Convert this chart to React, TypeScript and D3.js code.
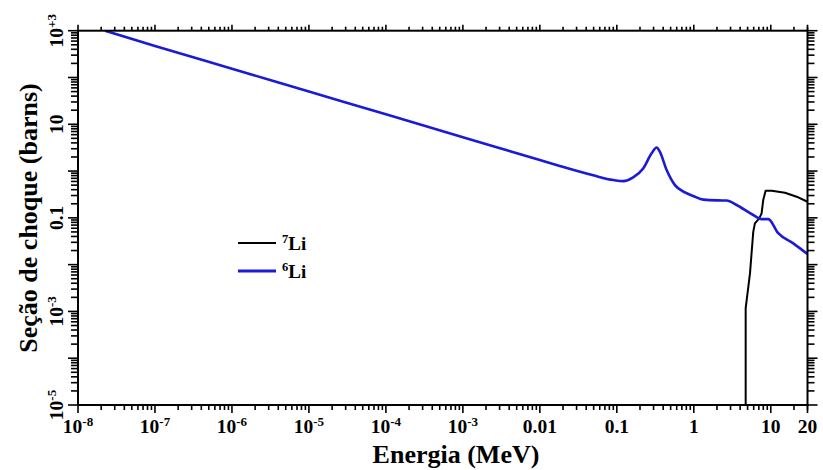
import React from "react";
import * as d3 from "d3";

// ---- data ----
const li6Energy = [2.25e-8, 1e-7, 1e-6, 1e-5, 1e-4, 1e-3, 0.01, 0.0182, 0.0494, 0.09, 0.121, 0.163, 0.22, 0.283, 0.329, 0.363, 0.444, 0.569, 0.767, 1.0, 1.33, 2.0, 2.67, 3.6, 5.92, 7.6, 9.27, 12.5, 19.6, 30];
const li6Sigma = [1000, 473, 154, 50, 16.3, 5.27, 1.72, 1.28, 0.81, 0.643, 0.61, 0.733, 1.14, 2.39, 3.2, 2.58, 1.05, 0.5, 0.35, 0.29, 0.245, 0.236, 0.235, 0.188, 0.115, 0.094, 0.094, 0.047, 0.0285, 0.0168];

const li7Energy = [4.72, 4.72, 5.37, 5.92, 6.22, 7.08, 7.6, 7.98, 8.57, 10.3, 15.3, 21.7, 30];
const li7Sigma = [1e-5, 1.18e-3, 6.5e-3, 0.05, 0.076, 0.0975, 0.125, 0.24, 0.38, 0.38, 0.344, 0.283, 0.221];

const X_MIN = 1e-8;
const X_MAX = 30;
const Y_MIN = 1e-5;
const Y_MAX = 1e3;

const xTickValues = [1e-8, 1e-7, 1e-6, 1e-5, 1e-4, 1e-3, 0.01, 0.1, 1, 10, X_MAX];
const xTickBase = ["10", "10", "10", "10", "10", "10", "0.01", "0.1", "1", "10", "20"];
const xTickSup = ["-8", "-7", "-6", "-5", "-4", "-3", "", "", "", "", ""];

const yTickValues = [1e3, 10, 0.1, 1e-3, 1e-5];
const yTickBase = ["10", "10", "0.1", "10", "10"];
const yTickSup = ["+3", "", "", "-3", "-5"];

const legendLabels = ["Li", "Li"];
const legendSups = ["7", "6"];

const W = 823;
const H = 470;
const L = 78, R = 807.5, T = 30.7, B = 405;
const FONT = "'Liberation Serif', 'Times New Roman', serif";

function logTicks(min: number, max: number) {
  const out: { v: number; major: boolean }[] = [];
  const k0 = Math.floor(Math.log10(min));
  const k1 = Math.ceil(Math.log10(max));
  for (let k = k0; k <= k1; k++) {
    for (let m = 1; m <= 9; m++) {
      const v = m * Math.pow(10, k);
      if (v >= min * 0.9999 && v <= max * 1.0001) out.push({ v, major: m === 1 });
    }
  }
  return out;
}

export default function App() {
  const x = d3.scaleLog().domain([X_MIN, X_MAX]).range([L, R]);
  const y = d3.scaleLog().domain([Y_MIN, Y_MAX]).range([B, T]);

  const line = d3
    .line<[number, number]>()
    .x((d) => x(d[0]))
    .y((d) => y(d[1]))
    .curve(d3.curveMonotoneX);
  const line7 = d3
    .line<[number, number]>()
    .x((d) => x(d[0]))
    .y((d) => y(d[1]))
    .curve(d3.curveLinear);

  const li6 = li6Energy.map((e, i) => [e, li6Sigma[i]] as [number, number]);
  const li7 = li7Energy.map((e, i) => [e, li7Sigma[i]] as [number, number]);

  const xt = logTicks(X_MIN, X_MAX);
  const yt = logTicks(Y_MIN, Y_MAX);

  return (
    <svg
      width={W}
      height={H}
      style={{ position: "absolute", left: 0, top: 0, background: "#fff" }}
      fontFamily={FONT}
      fontWeight="bold"
    >
      <rect x={0} y={0} width={W} height={H} fill="#fff" />
      <defs>
        <clipPath id="plot">
          <rect x={L} y={T} width={R - L} height={B - T} />
        </clipPath>
      </defs>

      {/* curves */}
      <g clipPath="url(#plot)">
        <path d={line7(li7) || ""} fill="none" stroke="#000" strokeWidth={2} strokeLinejoin="round" />
        <path d={line(li6) || ""} fill="none" stroke="#1a1ad8" strokeWidth={2.6} strokeLinejoin="round" />
      </g>

      {/* frame */}
      <rect x={L} y={T} width={R - L} height={B - T} fill="none" stroke="#000" strokeWidth={2} />

      {/* x ticks bottom & top */}
      {xt.map((t, i) => (
        <g key={"xt" + i}>
          <line x1={x(t.v)} x2={x(t.v)} y1={B} y2={B + (t.major ? 8 : 5)} stroke="#000" strokeWidth={1.6} />
          <line x1={x(t.v)} x2={x(t.v)} y1={T} y2={T - (t.major ? 6 : 4)} stroke="#000" strokeWidth={1.6} />
        </g>
      ))}
      <line x1={R} x2={R} y1={B} y2={B + 8} stroke="#000" strokeWidth={1.6} />
      <line x1={R} x2={R} y1={T} y2={T - 6} stroke="#000" strokeWidth={1.6} />

      {/* y ticks left & right */}
      {yt.map((t, i) => (
        <g key={"yt" + i}>
          <line x1={L} x2={L - (t.major ? 10 : 7)} y1={y(t.v)} y2={y(t.v)} stroke="#000" strokeWidth={1.6} />
          <line x1={R} x2={R + (t.major ? 10 : 7)} y1={y(t.v)} y2={y(t.v)} stroke="#000" strokeWidth={1.6} />
        </g>
      ))}

      {/* x tick labels */}
      {xTickValues.map((v, i) => (
        <text key={"xl" + i} x={x(v)} y={433} textAnchor="middle" fontSize={19.5} fill="#000">
          {xTickBase[i]}
          {xTickSup[i] ? (
            <tspan fontSize={13} dy={-7.5}>
              {xTickSup[i]}
            </tspan>
          ) : null}
        </text>
      ))}

      {/* y tick labels */}
      {yTickValues.map((v, i) => (
        <text
          key={"yl" + i}
          transform={`translate(63,${y(v)}) rotate(-90)`}
          textAnchor="middle"
          fontSize={19.5}
          fill="#000"
        >
          {yTickBase[i]}
          {yTickSup[i] ? (
            <tspan fontSize={13} dy={-7.5}>
              {yTickSup[i]}
            </tspan>
          ) : null}
        </text>
      ))}

      {/* axis titles */}
      <text x={456} y={463} textAnchor="middle" fontSize={26} fill="#000">
        Energia (MeV)
      </text>
      <text transform="translate(37,218) rotate(-90)" textAnchor="middle" fontSize={26} fill="#000">
        Seção de choque (barns)
      </text>

      {/* legend */}
      {legendLabels.map((lab, i) => (
        <g key={"lg" + i} transform={`translate(0,${243 + i * 28})`}>
          <line x1={238} x2={276} y1={0} y2={0} stroke={i === 0 ? "#000" : "#1a1ad8"} strokeWidth={i === 0 ? 2 : 3} />
          <text x={282} y={7} fontSize={19} fill="#000">
            <tspan fontSize={12.5} dy={-7}>
              {legendSups[i]}
            </tspan>
            <tspan dy={7}>{lab}</tspan>
          </text>
        </g>
      ))}
    </svg>
  );
}
